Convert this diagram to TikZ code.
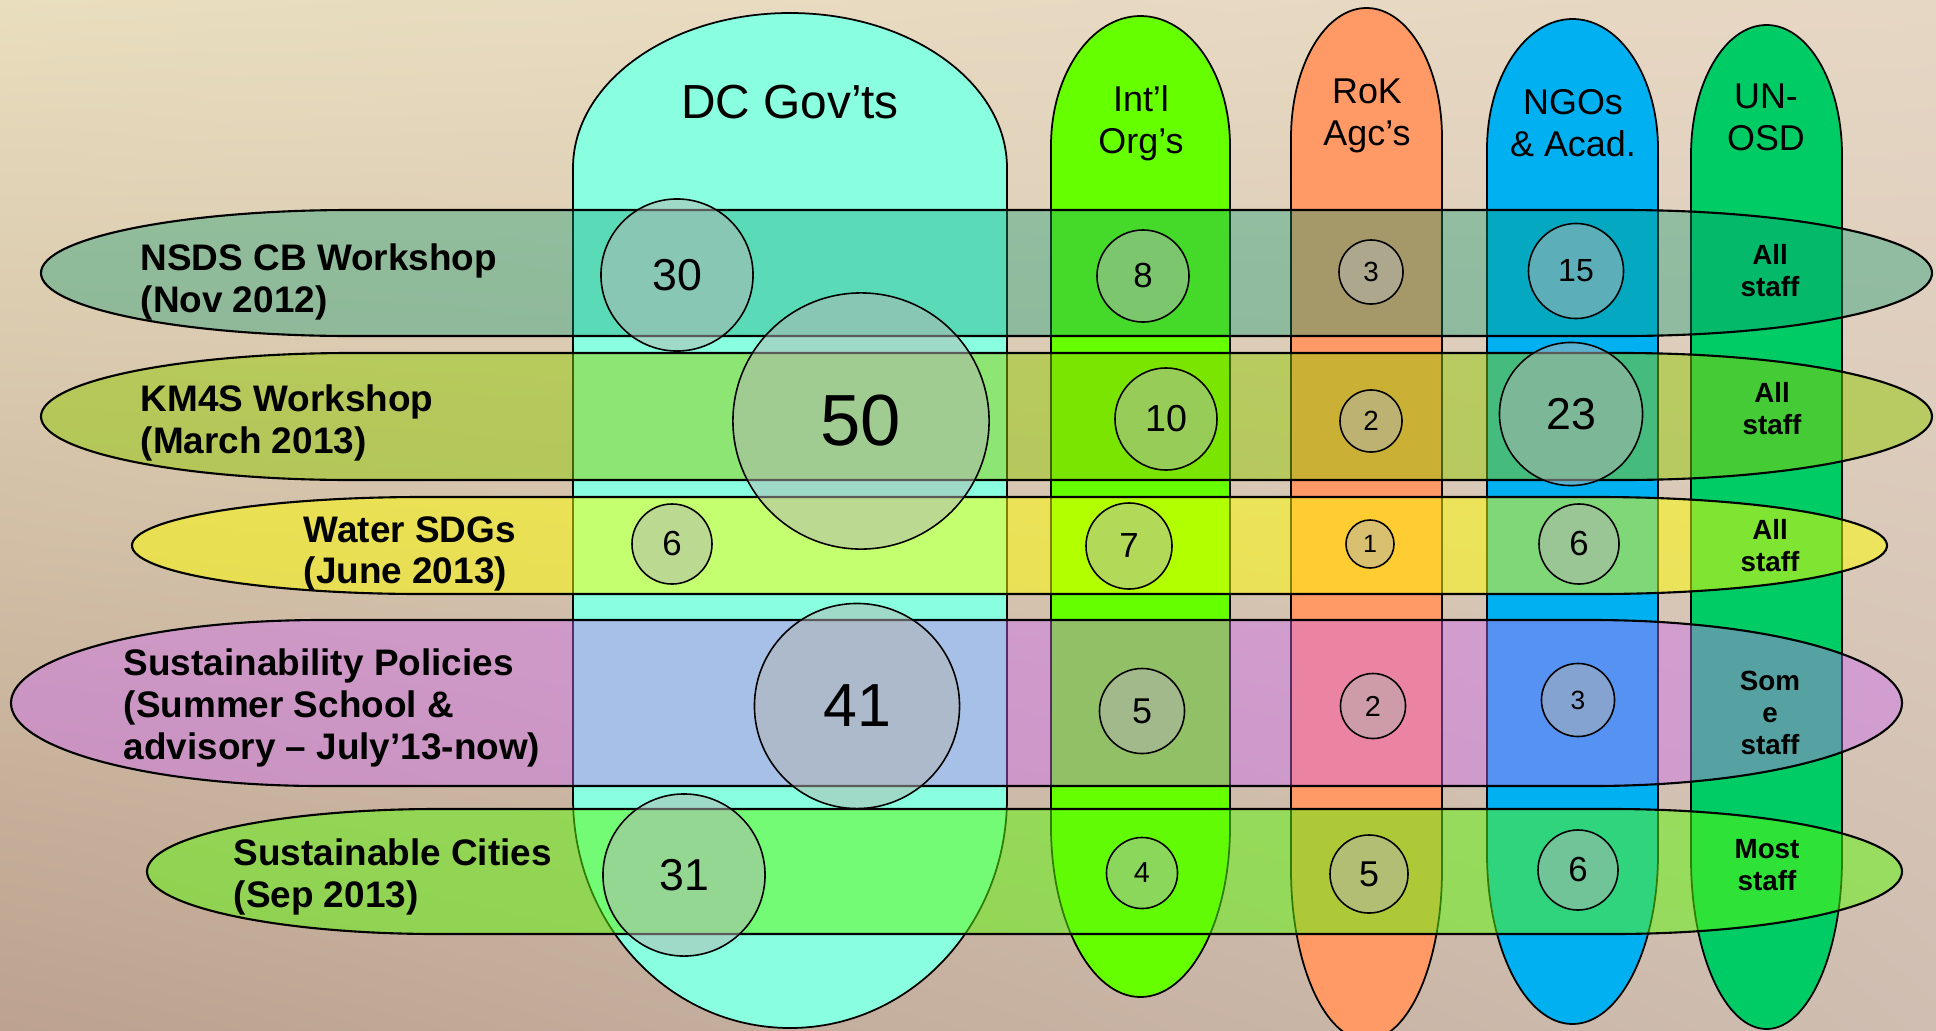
\documentclass[tikz,border=0pt]{standalone}
\usepackage{fontspec}
\setmainfont{Liberation Sans}
\usetikzlibrary{shadings}
\definecolor{bgUL}{RGB}{233,222,190}
\definecolor{bgUR}{RGB}{230,214,196}
\definecolor{bgLL}{RGB}{188,162,143}
\definecolor{bgLR}{RGB}{207,190,177}
\definecolor{dccol}{RGB}{138,255,224}
\definecolor{intcol}{RGB}{102,255,0}
\definecolor{rokcol}{RGB}{255,153,102}
\definecolor{ngocol}{RGB}{0,176,240}
\definecolor{unocol}{RGB}{0,204,102}
\definecolor{rowA}{RGB}{13,155,113}
\definecolor{rowB}{RGB}{145,202,0}
\definecolor{rowC}{RGB}{255,255,0}
\definecolor{rowD}{RGB}{205,105,245}
\definecolor{rowE}{RGB}{95,249,12}
\definecolor{circgray}{RGB}{180,181,177}
% vertical capsule: fill, left, right, top, bottom, top cap height, bottom cap height
\newcommand{\vcolumn}[7]{%
  \pgfmathsetmacro{\colrx}{(#3-#2)/2}%
  \path[colshape, fill=#1] (#2,#5-#7) -- (#2,#4+#6)
    arc[start angle=180, end angle=360, x radius=\colrx, y radius=#6]
    -- (#3,#5-#7)
    arc[start angle=0, end angle=180, x radius=\colrx, y radius=#7] -- cycle;}
% horizontal band: fill, opacity, left tip, right tip, top, bottom, cap length
\newcommand{\hband}[7]{%
  \pgfmathsetmacro{\bandry}{(#6-#5)/2}%
  \path[rowshape, fill=#1, fill opacity=#2] (#3+#7,#5) -- (#4-#7,#5)
    arc[start angle=270, end angle=450, x radius=#7, y radius=\bandry]
    -- (#3+#7,#6)
    arc[start angle=90, end angle=270, x radius=#7, y radius=\bandry] -- cycle;}
\tikzset{
  colshape/.style={draw=black, line width=0.5pt},
  rowshape/.style={draw=black, line width=0.6pt},
  hdrbig/.style={font=\fontsize{13.6}{16}\selectfont, inner sep=0pt},
  hdr/.style={font=\fontsize{10.2}{11.9}\selectfont, align=center, inner sep=0pt},
  rowlbl/.style={font=\bfseries\fontsize{10.5}{11.9}\selectfont, align=left, anchor=west, inner sep=0pt},
  staff/.style={font=\bfseries\fontsize{7.9}{9.1}\selectfont, align=center, inner sep=0pt},
  num/.style={circle, draw=black, line width=0.45pt, fill=circgray, fill opacity=0.5,
    text opacity=1, inner sep=0pt, minimum size=#1},
}
\begin{document}
\begin{tikzpicture}[x=0.01cm,y=-0.01cm]
\useasboundingbox (0,0) rectangle (1936,1030);
\shade[upper left=bgUL, upper right=bgUR, lower left=bgLL, lower right=bgLR]
  (0,0) rectangle (1936,1030);

% columns
\vcolumn{dccol}{573}{1007}{13}{1028}{155}{230}
\vcolumn{intcol}{1051}{1230}{16}{997}{130}{170}
\vcolumn{rokcol}{1291}{1442}{8}{1040}{130}{170}
\vcolumn{ngocol}{1487}{1658}{19}{1024}{130}{170}
\vcolumn{unocol}{1691}{1842}{25}{1029}{130}{170}

% rows
\hband{rowA}{0.37}{41}{1932}{210}{336}{310}
\hband{rowB}{0.48}{41}{1932}{353}{480}{310}
\hband{rowC}{0.5}{132}{1887}{497}{594}{290}
\hband{rowD}{0.42}{11}{1902}{620}{786}{310}
\hband{rowE}{0.5}{147}{1902}{809}{934}{290}

% column headers
\node[hdrbig, anchor=base] (hDC) at (790,118) {DC Gov’ts};
\node[hdr] (hInt) at (1141,123) {Int’l\\Org’s};
\node[hdr] (hRoK) at (1367,116) {RoK\\Agc’s};
\node[hdr] (hNGO) at (1573,123) {NGOs\\\& Acad.};
\node[hdr] (hUN) at (1766,117) {UN-\\OSD};

% row labels
\node[rowlbl] (lNSDS) at (140,282) {NSDS CB Workshop\\(Nov 2012)};
\node[rowlbl] (lKM4S) at (140,423) {KM4S Workshop\\(March 2013)};
\node[rowlbl] (lWater) at (303,554) {Water SDGs\\(June 2013)};
\node[rowlbl] (lSust) at (123,708) {Sustainability Policies\\(Summer School \&\\advisory – July’13-now)};
\node[rowlbl] (lCity) at (233,877) {Sustainable Cities\\(Sep 2013)};

% UN-OSD labels
\node[staff] (s1) at (1770,271) {All\\staff};
\node[staff] (s2) at (1772,409) {All\\staff};
\node[staff] (s3) at (1770,546) {All\\staff};
\node[staff] (s4) at (1770,713) {Som\\e\\staff};
\node[staff] (s5) at (1767,865) {Most\\staff};

% counts, row 1
\node[num=1.52cm, font=\fontsize{12.7}{14}\selectfont] (c11) at (677,275) {30};
\node[num=0.92cm, font=\fontsize{9.9}{12}\selectfont] (c12) at (1143,276) {8};
\node[num=0.64cm, font=\fontsize{7.9}{10}\selectfont] (c13) at (1371,272) {3};
\node[num=0.95cm, font=\fontsize{9.1}{11}\selectfont] (c14) at (1576,271) {15};
% row 2
\node[num=2.56cm, font=\fontsize{20.6}{24}\selectfont] (c21) at (861,421) {50};
\node[num=1.02cm, font=\fontsize{10.7}{13}\selectfont] (c22) at (1166,419) {10};
\node[num=0.62cm, font=\fontsize{7.9}{10}\selectfont] (c23) at (1371,421) {2};
\node[num=1.43cm, font=\fontsize{12.7}{14}\selectfont] (c24) at (1571,414) {23};
% row 3
\node[num=0.80cm, font=\fontsize{9.9}{12}\selectfont] (c31) at (672,544) {6};
\node[num=0.86cm, font=\fontsize{9.9}{12}\selectfont] (c32) at (1129,546) {7};
\node[num=0.48cm, font=\fontsize{7.1}{9}\selectfont] (c33) at (1370,544) {1};
\node[num=0.80cm, font=\fontsize{9.9}{12}\selectfont] (c34) at (1579,544) {6};
% row 4
\node[num=2.05cm, font=\fontsize{17.3}{20}\selectfont] (c41) at (857,706) {41};
\node[num=0.85cm, font=\fontsize{10.2}{12}\selectfont] (c42) at (1142,711) {5};
\node[num=0.65cm, font=\fontsize{8.2}{10}\selectfont] (c43) at (1373,706) {2};
\node[num=0.73cm, font=\fontsize{7.5}{9}\selectfont] (c44) at (1578,700) {3};
% row 5
\node[num=1.62cm, font=\fontsize{12.7}{14}\selectfont] (c51) at (684,875) {31};
\node[num=0.71cm, font=\fontsize{8.2}{10}\selectfont] (c52) at (1142,873) {4};
\node[num=0.78cm, font=\fontsize{10.2}{12}\selectfont] (c53) at (1369,874) {5};
\node[num=0.80cm, font=\fontsize{9.9}{12}\selectfont] (c54) at (1578,870) {6};
\end{tikzpicture}
\end{document}
